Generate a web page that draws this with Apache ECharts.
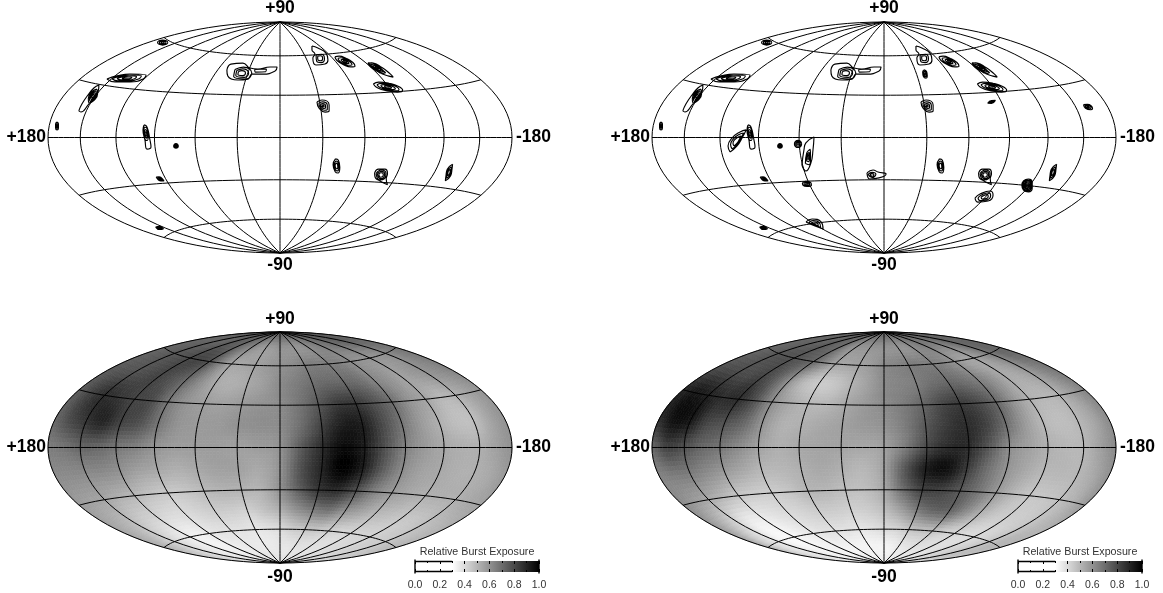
<!DOCTYPE html>
<html><head><meta charset="utf-8">
<style>html,body{margin:0;padding:0;background:#fff}#c{width:1163px;height:593px}</style>
<script src="https://cdn.jsdelivr.net/npm/echarts@6/dist/echarts.min.js"></script>
</head><body><div id="c"></div>
<script>
// Exposure grid axes (degrees)
const gridLons=[180,165,150,135,120,105,90,75,60,45,30,15,0,-15,-30,-45,-60,-75,-90,-105,-120,-135,-150,-165,-180];
const gridLats=[90,75,60,45,30,15,0,-15,-30,-45,-60,-75,-90];
const parallels=[60,30,0,-30,-60];
const meridians=[180,150,120,90,60,30,0,-30,-60,-90,-120,-150,-180];
const barTicks=[0,0.2,0.4,0.6,0.8,1];
const barWhiteEnd=0.3;

// Relative exposure
const exposureLeft=[
[.74,.74,.74,.74,.74,.74,.74,.74,.74,.74,.74,.74,.74,.74,.74,.74,.74,.74,.74,.74,.74,.74,.74,.74,.74],
[.72,.72,.72,.72,.74,.74,.72,.68,.64,.60,.58,.58,.60,.60,.60,.60,.62,.64,.66,.68,.70,.72,.74,.74,.72],
[.72,.74,.76,.78,.80,.82,.78,.66,.56,.55,.56,.58,.60,.62,.65,.66,.66,.65,.62,.60,.60,.60,.62,.66,.68],
[.75,.77,.78,.80,.82,.78,.72,.62,.54,.52,.54,.57,.62,.66,.70,.72,.72,.70,.64,.60,.56,.58,.60,.62,.65],
[.75,.82,.88,.86,.82,.80,.68,.60,.57,.56,.58,.60,.62,.68,.76,.84,.85,.78,.70,.60,.55,.50,.52,.56,.60],
[.72,.80,.86,.90,.82,.78,.68,.60,.58,.58,.60,.61,.62,.70,.82,.92,.92,.80,.68,.58,.52,.48,.48,.55,.60],
[.66,.68,.72,.72,.68,.65,.60,.57,.57,.57,.56,.57,.60,.75,.88,.97,.92,.78,.65,.58,.54,.52,.52,.56,.60],
[.62,.62,.62,.62,.60,.56,.54,.52,.54,.56,.56,.54,.60,.78,.90,1.0,.92,.75,.62,.56,.54,.52,.52,.54,.58],
[.58,.56,.55,.52,.50,.47,.45,.46,.49,.51,.51,.51,.60,.74,.85,.88,.78,.65,.58,.54,.52,.52,.52,.54,.56],
[.55,.52,.48,.44,.42,.40,.40,.42,.44,.44,.43,.47,.52,.60,.66,.68,.60,.55,.50,.48,.46,.46,.48,.50,.52],
[.52,.48,.42,.38,.35,.34,.36,.38,.38,.38,.37,.38,.40,.44,.46,.46,.44,.42,.42,.42,.42,.44,.45,.48,.50],
[.42,.42,.38,.36,.35,.34,.34,.35,.36,.36,.36,.36,.37,.37,.38,.38,.38,.38,.38,.40,.40,.42,.42,.44,.44],
[.38,.38,.38,.38,.38,.38,.38,.38,.38,.38,.38,.38,.38,.38,.38,.38,.38,.38,.38,.38,.38,.38,.38,.38,.38]];
// Relative exposure
const exposureRight=[
[.72,.72,.72,.72,.72,.72,.72,.72,.72,.72,.72,.72,.72,.72,.72,.72,.72,.72,.72,.72,.72,.72,.72,.72,.72],
[.72,.72,.72,.72,.74,.72,.70,.64,.60,.60,.60,.60,.60,.60,.60,.60,.62,.64,.66,.66,.66,.68,.72,.72,.72],
[.72,.74,.76,.78,.78,.76,.72,.64,.56,.55,.56,.58,.62,.64,.66,.66,.66,.64,.60,.56,.56,.60,.66,.72,.72],
[.78,.80,.80,.80,.82,.75,.62,.50,.45,.46,.51,.56,.62,.64,.66,.70,.72,.70,.66,.60,.54,.54,.58,.64,.68],
[.90,.94,.92,.88,.88,.78,.62,.54,.50,.50,.54,.58,.62,.66,.72,.80,.84,.80,.72,.60,.52,.50,.52,.58,.64],
[.88,.96,.94,.82,.78,.72,.60,.52,.52,.54,.56,.58,.60,.66,.76,.84,.88,.82,.70,.58,.50,.48,.50,.55,.62],
[.72,.82,.78,.72,.68,.62,.56,.52,.54,.55,.55,.54,.56,.66,.80,.88,.88,.76,.62,.56,.52,.50,.50,.56,.62],
[.64,.66,.66,.62,.58,.54,.50,.50,.52,.54,.52,.50,.56,.76,.92,.96,.84,.70,.60,.54,.50,.50,.50,.54,.60],
[.62,.58,.54,.50,.46,.44,.44,.46,.50,.50,.48,.48,.54,.70,.82,.82,.76,.68,.58,.50,.46,.46,.48,.52,.58],
[.58,.50,.42,.36,.36,.38,.40,.42,.44,.44,.43,.44,.48,.56,.66,.72,.72,.62,.52,.46,.44,.44,.46,.50,.52],
[.52,.42,.36,.32,.32,.34,.36,.38,.38,.38,.37,.38,.40,.42,.46,.48,.48,.44,.42,.40,.40,.42,.46,.50,.50],
[.42,.38,.36,.34,.33,.33,.33,.33,.33,.33,.33,.33,.33,.34,.36,.37,.38,.38,.38,.38,.40,.42,.44,.46,.44],
[.35,.35,.35,.35,.35,.35,.35,.35,.35,.35,.35,.35,.35,.35,.35,.35,.35,.35,.35,.35,.35,.35,.35,.35,.35]];

// Burst contours on the map plane (x -180..180, y -90..90):
// [centre x, centre y, nested contour levels, outer ring as x,y offsets]
const contoursShared=[
[-91,74,[1,.65,.3],[4,0,2.8,1.4,0,2,-2.8,1.4,-4,0,-2.8,-1.4,0,-2,2.8,-1.4]],
[-118.7,46.4,[1,.75,.5,.25],[-15.6,-.8,-7.8,1.6,2.3,3.1,14.8,2.3,12.5,-.8,2.3,-3.1,-9.4,-3.1]],
[-146.7,30.8,[1],[-9.4,-10.1,-7,-4.7,-2.3,2.3,2.3,7.8,6.2,10.1,5.5,4.7,1.6,0,-2.3,-5.5,-7.8,-10.9]],
[-145.1,32.3,[1.2,.9,.6,.3],[2.5,4.5,3,1.5,.5,-3,-2.5,-4.5,-3,-1.5,-.5,3]],
[-173,9,[1,.6,.3],[0,3,1.1,1.5,1.1,-1.5,0,-3,-1.1,-1.5,-1.1,1.5]],
[-103.2,.4,[1],[-2.3,9.4,0,7.8,2.3,-2.3,3.1,-7.8,0,-9.4,-1.6,-2.3,-3.1,5.5]],
[-104,2.7,[1,.65,.35],[-1.2,5.5,1,4,1.8,-1,1,-5,-.8,-4,-1.8,1]],
[-80.7,-6.6,[1,.65,.3],[1.8,0,1.3,1.3,0,1.8,-1.3,1.3,-1.8,0,-1.3,-1.3,0,-1.8,1.3,-1.3]],
[-93.1,-32.3,[1,.65,.3],[-3,1.5,-.7,1.6,3,-1.5,.7,-1.6]],
[-93.5,-70.5,[1,.65,.3],[-3,.7,0,1.2,3,-.7,0,-1.2]],
[-23.3,51,[1],[-17.9,1.6,-14.8,6.2,-5.5,7,0,3.1,6.2,2.3,15.6,3.9,21,3.9,19.5,.8,10.1,-1.6,1.6,-1.6,-1.6,-5.5,-9.4,-6.2,-17.2,-3.1]],
[-30.3,50.2,[1.2,.85,.5],[-3.9,2.3,1.6,3.9,7,0,3.1,-3.9,-4.7,-2.3]],
[-15.1,52.2,[1],[-4.5,.8,4.5,1.2,4,-1,-4,-1.2]],
[31,63.5,[1],[-6.2,7.8,-1.6,6.2,4.7,2.3,6.2,-3.1,3.9,-6.2,-3.1,-7,-5.5,-1.6,-3.9,1.6,-6.2,4.7]],
[31,61.9,[1,.6],[-3,2.5,1,3,3.5,-.5,1,-3.5,-2.5,-2.5]],
[50.4,59.2,[1,.7,.4,.2],[-7.8,3.6,-4.6,4.2,1.1,2.4,6.2,-.8,7.8,-3.6,4.6,-4.2,-1.1,-2.4,-6.2,.8]],
[78,52.6,[1],[-9.8,5.5,-6.2,5.4,1.1,1.9,7.5,-3,9.8,-5.5,6.5,-4.8,-1.1,-1.9,-7.8,2.4]],
[75.3,54.1,[1,.75,.5,.25],[-6.5,3.6,-4,4,1,1.5,5,-2.2,6.5,-3.6,4,-4,-1,-1.5,-5,2.2]],
[83.8,39.3,[1,.75,.5,.25],[-11.4,2.4,-7.3,3.9,.6,3,8.3,.5,11.4,-2.4,7.3,-3.9,-.6,-3,-8.3,-.5]],
[33.4,24.5,[1,.7,.4,.15],[-4.7,3.1,-.8,4.7,4.7,.8,4.7,-3.9,1.6,-4.7,-3.1,-1.6]],
[43.8,-22.2,[1,.7,.4],[-.8,5.5,1.5,4.5,2.6,-1,1.2,-5.5,-1,-4.5,-2.6,1]],
[78.4,-29.2,[1],[-5,1.5,-2,4.5,3,4.5,5,1,4,-3,5,-7.5,2.5,-6.5,-2,-4,-4.5,-2]],
[78.4,-29.2,[1.1,.8,.5],[-3.5,1,0,3.5,3.5,1,2.5,-2.5,-1,-3.5]],
[131.1,-27.3,[1,.7,.4],[2.8,6.4,2.4,3,1.3,-2.5,-2.8,-6.4,-2.4,-3,-1.3,2.5]]
];
// Extra contours that appear only in the right-hand map
const contoursExtra=[
[-114,-2.7,[1,.72,.45],[-5.4,-8.6,-7,-3.9,-3.9,2.3,2.3,7,7,8.6,3.9,2.3,0,-3.9]],
[-66.7,-5,[1,.65,.3],[2.8,0,2,2,0,2.8,-2,2,-2.8,0,-2,-2,0,-2.8,2,-2]],
[-59,-13.6,[1],[-4.7,-7.8,-3.1,3.9,-1.6,9.4,4.7,14,3.9,3.9,2.3,-6.2,-1.6,-12.5]],
[-59,-15.2,[1,.6,.3],[-2,-5,-1,3,1.8,6,2,0,1,-6]],
[-59.8,-36.2,[1,.65,.3],[-3.5,.8,-1,2,3,1,3.5,-1,0,-2,-3,-1]],
[-53.5,-67.4,[1,.7,.4],[-7,1.6,-2.3,3.9,4.7,1.6,6.2,-3.9,0,-1.6]],
[-6.2,-29.2,[1],[-7,1.6,-2.3,3.9,1.6,2.3,7.8,.8,2.3,-2.3,-4.7,-3.1]],
[-9.3,-29.2,[1,.5],[-3,.5,0,2,3,.5,0,-2]],
[111,-37.4,[1,.8,.6,.4,.2],[-4,0,-2.8,3.5,1,5,4,2.5,4,-2,1,-5,-2.8,-3.5]],
[78.4,-46.4,[1,.7,.4],[-7.8,-.8,-3.9,2.3,3.9,4.7,6.2,1.6,2.3,-3.1,-5.5,-3.9]],
[31.8,49.5,[1,.65,.3],[-.8,3.2,1.2,2,1.8,-1.5,.8,-3.2,-1.2,-2,-1.8,1.5]],
[83.4,27.7,[1,.6,.3],[-3,-1,0,1,3,1.2,0,-1.1]],
[158.3,23.8,[1,.65,.3],[-3.5,1.8,-.5,2,3.5,-1.2,2,-2.2,-2,-1]]
];

const FONT='"Liberation Sans",Arial,sans-serif';
const rad=Math.PI/180;
function hammer(lon,lat){
  const c=Math.cos(lat*rad),h=lon*rad/2,d=Math.sqrt(1+c*Math.cos(h));
  return [-180*c*Math.sin(h)/d, 90*Math.sin(lat*rad)/d];
}
function graticule(){
  const out=[];
  meridians.forEach(lon=>{for(let a=-90;a<=90;a+=3)out.push(hammer(lon,a));out.push(['-','-']);});
  parallels.forEach(lat=>{for(let l=-180;l<=180;l+=5)out.push(hammer(l,lat));out.push(['-','-']);});
  return out;
}
function rings(list){
  const out=[];
  list.forEach(([cx,cy,levels,r])=>levels.forEach(k=>{
    for(let i=0;i<=r.length;i+=2){const j=i%r.length;out.push([cx+r[j]*k,cy+r[j+1]*k]);}
    out.push(['-','-']);
  }));
  return out;
}
function grey(v){
  const t=Math.max(0,Math.min(1,(v-barWhiteEnd)/(1-barWhiteEnd)));
  const g=Math.round(255*(1-t));
  return 'rgb('+g+','+g+','+g+')';
}
// Colour shading between the read cells is done only when painting.
function cr(a,b,c,d,t){return .5*(2*b+(c-a)*t+(2*a-5*b+4*c-d)*t*t+(3*b-a-3*c+d)*t*t*t);}
function shade(table,i,j,s,t){
  const r=Math.max(0,Math.min(table.length-1,j));
  const row=k=>{const R=table[Math.max(0,Math.min(table.length-1,k))],n=R.length-1,g=q=>R[Math.max(0,Math.min(n,q))];
    return cr(g(i-1),g(i),g(i+1),g(i+2),s);};
  return cr(row(r-1),row(r),row(r+1),row(r+2),t);
}
function heatSeries(idx,table){
  const data=[];
  for(let j=0;j<gridLats.length-1;j++)for(let i=0;i<gridLons.length-1;i++)data.push([gridLons[i],gridLats[j],table[j][i],i,j]);
  const N=6;
  return {type:'custom',xAxisIndex:idx,yAxisIndex:idx,data,encode:{x:0,y:1},silent:true,animation:false,progressive:0,z:1,clip:false,
    renderItem(p,api){
      const i=api.value(3),j=api.value(4),ch=[];
      const lo=gridLons[i],dl=gridLons[i+1]-lo,la=gridLats[j],da=gridLats[j+1]-la;
      for(let v=0;v<N;v++)for(let u=0;u<N;u++){
        const val=shade(table,i,j,(u+.5)/N,(v+.5)/N);
        const pts=[[u,v],[u+1,v],[u+1,v+1],[u,v+1]].map(q=>api.coord(hammer(lo+dl*q[0]/N,la+da*q[1]/N)));
        const col=grey(val);
        ch.push({type:'polygon',shape:{points:pts},style:{fill:col,stroke:col,lineWidth:.7}});
      }
      return {type:'group',children:ch};
    }};
}
function lineSeries(idx,data,z,w,smooth){
  return {type:'line',xAxisIndex:idx,yAxisIndex:idx,data,showSymbol:false,symbol:'none',smooth:smooth,connectNulls:false,clip:false,silent:true,animation:false,z,
    lineStyle:{color:'#000',width:w}};
}
const maps=[{l:48,t:22},{l:652,t:22},{l:48,t:332},{l:652,t:332}];
const bars=[{l:415,t:561},{l:1018,t:561}];
const grids=[],xAxes=[],yAxes=[],series=[];
maps.forEach(m=>{
  grids.push({left:m.l,top:m.t,width:464,height:231});
  xAxes.push({type:'value',gridIndex:grids.length-1,min:-180,max:180,show:false});
  yAxes.push({type:'value',gridIndex:grids.length-1,min:-90,max:90,show:false});
});
series.push(heatSeries(2,exposureLeft),heatSeries(3,exposureRight));
[0,1,2,3].forEach(i=>series.push(lineSeries(i,graticule(),3,1,false)));
series.push(lineSeries(0,rings(contoursShared),4,1.15,.5));
series.push(lineSeries(1,rings(contoursShared.concat(contoursExtra)),4,1.15,.5));

bars.forEach(b=>{
  const gi=grids.length;
  grids.push({left:b.l,top:b.t,width:124,height:11});
  const ax=pos=>({type:'value',gridIndex:gi,min:0,max:1,interval:.2,position:pos,z:6,
    axisLine:{show:false},splitLine:{show:false},
    axisTick:{show:true,inside:true,length:3,lineStyle:{color:'#000',width:1}},
    minorTick:{show:true,splitNumber:2,length:2,lineStyle:{color:'#000',width:1}},
    axisLabel:pos==='bottom'?{show:true,margin:8,fontSize:10.5,fontFamily:FONT,color:'#333',
      customValues:barTicks,formatter:v=>v.toFixed(1)}:{show:false}});
  const xi=xAxes.length;
  xAxes.push(ax('bottom'),ax('top'));
  yAxes.push({type:'value',gridIndex:gi,min:0,max:1,show:false});
  series.push({type:'custom',xAxisIndex:xi,yAxisIndex:gi,data:[[0,0]],silent:true,animation:false,z:2,clip:false,
    renderItem(p,api){
      const L=api.coord([0,1]),M=api.coord([barWhiteEnd,1]),R=api.coord([1,0]);
      const st={stroke:'#000',lineWidth:1.4};
      return {type:'group',children:[
        {type:'rect',shape:{x:M[0],y:M[1],width:R[0]-M[0],height:R[1]-M[1]},
          style:{fill:new echarts.graphic.LinearGradient(0,0,1,0,[{offset:0,color:'#fff'},{offset:1,color:'#000'}])}},
        {type:'line',shape:{x1:L[0],y1:L[1]+.5,x2:M[0],y2:L[1]+.5},style:st},
        {type:'line',shape:{x1:L[0],y1:R[1]-.5,x2:M[0],y2:R[1]-.5},style:st},
        {type:'line',shape:{x1:L[0],y1:L[1]-1.5,x2:L[0],y2:R[1]+1.5},style:st},
        {type:'line',shape:{x1:R[0],y1:L[1]-1.5,x2:R[0],y2:R[1]+1.5},style:st}
      ]};
    }});
});

const big=(text,x,y,align)=>({type:'text',x,y,silent:true,z:10,style:{text,fill:'#000',font:'bold 17.5px '+FONT,align:align||'center',verticalAlign:'middle'}});
const texts=[];
[[280,8,137.5,265],[884,8,137.5,265],[280,319,447.5,577],[884,319,447.5,577]].forEach(([c,t,m,b])=>{
  texts.push(big('+90',c,t),big('-90',c,b),big('+180',c-234,m,'right'),big('-180',c+236,m,'left'));
});
bars.forEach(b=>texts.push({type:'text',x:b.l+62,y:552,silent:true,z:10,style:{text:'Relative Burst Exposure',fill:'#333',font:'10.7px '+FONT,align:'center',verticalAlign:'middle'}}));

const chart=echarts.init(document.getElementById('c'),null,{renderer:'canvas'});
chart.setOption({animation:false,backgroundColor:'#fff',grid:grids,xAxis:xAxes,yAxis:yAxes,series,graphic:texts});
</script></body></html>
